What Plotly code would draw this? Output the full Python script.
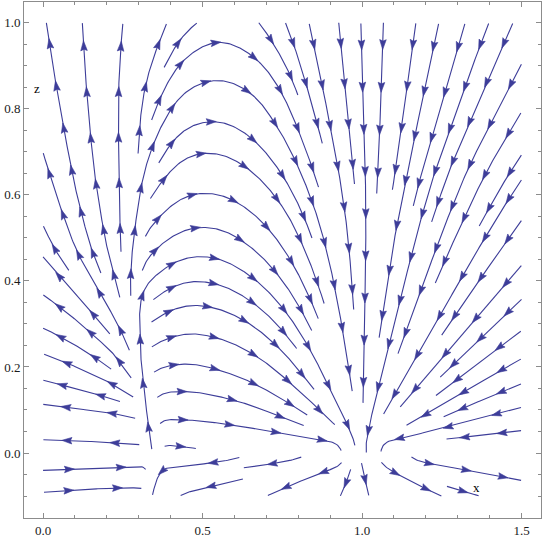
import math
from bisect import bisect_right
from collections import deque

import numpy as np
import plotly.graph_objects as go

# Flow direction at grid nodes, in degrees on the page
# (0 = to the right, 90 = straight up). One list per row of the grid.
GRID_X = [0.0, 0.1, 0.2, 0.3, 0.34, 0.4, 0.5, 0.6, 0.7, 0.8, 0.9, 1.0, 1.1, 1.2, 1.3, 1.4, 1.5]
GRID_Z = [-0.1, -0.03, 0.03, 0.1, 0.2, 0.3, 0.4, 0.5, 0.6, 0.7, 0.8, 0.9, 1.0]

DIR_Z_N010 = [5, 4, 3, -3, -100, -150, -165, -161, -156, -146, -127, -85, -45, -30, -18, -15, -13]
DIR_Z_N003 = [2, 2, 2, 3, -90, -175, -174, -173, -172, -172, -165, -78, -25, -10, -9, -9, -9]
DIR_Z_003 = [178, 178, 177, 177, 95, -2, -3, -4, -4, -5, -12, -90, -168, -175, -176, -176, -176]
DIR_Z_010 = [175, 173, 172, 160, 60, 2, -8, -13, -22, -32, -55, -90, -127, -146, -156, -162, -166]
DIR_Z_020 = [162, 158, 145, 105, 35, 10, -12, -22, -36, -52, -70, -90, -110, -127, -138, -146, -154]
DIR_Z_030 = [155, 142, 128, 95, 35, 22, -8, -25, -42, -58, -75, -90, -104, -116, -127, -135, -141]
DIR_Z_040 = [140, 128, 113, 80, 45, 28, -5, -28, -45, -62, -77, -90, -101, -110, -119, -127, -133]
DIR_Z_050 = [117, 110, 100, 80, 50, 33, 0, -30, -48, -65, -78, -89, -99, -107, -115, -122, -127]
DIR_Z_060 = [112, 103, 97, 82, 58, 42, 2, -28, -48, -65, -77, -88, -100, -106, -112, -118, -125]
DIR_Z_070 = [106, 99, 93, 87, 70, 52, 6, -28, -50, -67, -78, -87, -97, -106, -113, -119, -124]
DIR_Z_080 = [104, 97, 92, 86, 72, 58, 14, -25, -55, -70, -80, -88, -95, -103, -110, -116, -121]
DIR_Z_090 = [100, 95, 90, 82, 72, 60, 22, -20, -50, -72, -82, -89, -94, -101, -107, -113, -118]
DIR_Z_100 = [100, 95, 89, 80, 75, 65, 32, -25, -58, -75, -83, -88, -93, -101, -105, -112, -114]

X_LIMITS = [0.0, 1.5]
Z_LIMITS = [-0.1, 1.0]
X_TICKS = [0.0, 0.5, 1.0, 1.5]
X_TICK_TEXT = ["0.0", "0.5", "1.0", "1.5"]
Z_TICKS = [0.0, 0.2, 0.4, 0.6, 0.8, 1.0]
Z_TICK_TEXT = ["0.0", "0.2", "0.4", "0.6", "0.8", "1.0"]

BLUE = "#3d3d99"
FRAME = "#8c8c8c"
FONT = "Liberation Serif"

W, H = 545, 543
M = dict(l=24, r=4, t=2, b=25)
X_VIEW = [-0.0596, 1.561]
Z_VIEW = [-0.151, 1.048]
KX = (W - M["l"] - M["r"]) / (X_VIEW[1] - X_VIEW[0])   # px per unit
KZ = (H - M["t"] - M["b"]) / (Z_VIEW[1] - Z_VIEW[0])

# ---- direction field on the page (px space) ----
rows = [DIR_Z_N010, DIR_Z_N003, DIR_Z_003, DIR_Z_010, DIR_Z_020, DIR_Z_030, DIR_Z_040,
        DIR_Z_050, DIR_Z_060, DIR_Z_070, DIR_Z_080, DIR_Z_090, DIR_Z_100]
ang = np.radians(np.array(rows, dtype=float))
CU = np.cos(ang).tolist()
CV = np.sin(ang).tolist()
GX = [x * KX for x in GRID_X]
GZ = [z * KZ for z in GRID_Z]
XMIN, XMAX = X_LIMITS[0] * KX, X_LIMITS[1] * KX
ZMIN, ZMAX = Z_LIMITS[0] * KZ, Z_LIMITS[1] * KZ


def field(px, pz):
    i = min(max(bisect_right(GX, px) - 1, 0), len(GX) - 2)
    j = min(max(bisect_right(GZ, pz) - 1, 0), len(GZ) - 2)
    tx = (px - GX[i]) / (GX[i + 1] - GX[i])
    tz = (pz - GZ[j]) / (GZ[j + 1] - GZ[j])
    tx = min(max(tx, 0.0), 1.0)
    tz = min(max(tz, 0.0), 1.0)
    a, b, c, d = (1 - tx) * (1 - tz), tx * (1 - tz), (1 - tx) * tz, tx * tz
    u = a * CU[j][i] + b * CU[j][i + 1] + c * CU[j + 1][i] + d * CU[j + 1][i + 1]
    v = a * CV[j][i] + b * CV[j][i + 1] + c * CV[j + 1][i] + d * CV[j + 1][i + 1]
    return u, v


# ---- evenly spaced streamlines ----
D_SEP = 22.0
D_TEST = 11.0
STEP = 1.5
MIN_SPEED = 0.35
MIN_LEN = 12.0
MAX_LEN = 700.0
ARROW_GAP = 44.0
TURN_WINDOW = 10      # steps
TURN_COS = 0.55       # stop on sharp hooks

cells = {}


def near(px, pz, r):
    ci, cj = int(px // D_SEP), int(pz // D_SEP)
    r2 = r * r
    for a in (ci - 1, ci, ci + 1):
        for b in (cj - 1, cj, cj + 1):
            for qx, qz in cells.get((a, b), ()):
                if (qx - px) ** 2 + (qz - pz) ** 2 < r2:
                    return True
    return False


def trace(px, pz, sign):
    pts = []
    dirs = []
    total = 0.0
    while total < MAX_LEN:
        u, v = field(px, pz)
        m = math.hypot(u, v)
        if m < MIN_SPEED:
            break
        mx = px + sign * 0.5 * STEP * u / m
        mz = pz + sign * 0.5 * STEP * v / m
        u, v = field(mx, mz)
        m = math.hypot(u, v)
        if m < MIN_SPEED:
            break
        du, dv = u / m, v / m
        if dirs:
            pu, pv = dirs[max(len(dirs) - TURN_WINDOW, 0)]
            if du * pu + dv * pv < TURN_COS:
                break
        nx = px + sign * STEP * du
        nz = pz + sign * STEP * dv
        if not (XMIN <= nx <= XMAX and ZMIN <= nz <= ZMAX):
            break
        if (nz > 0) != (pz > 0):      # the flow does not cross the z = 0 line
            break
        if near(nx, nz, D_TEST):
            break
        pts.append((nx, nz))
        dirs.append((du, dv))
        px, pz = nx, nz
        total += STEP
    return pts


lines = []


def try_seed(px, pz):
    if not (XMIN <= px <= XMAX and ZMIN <= pz <= ZMAX):
        return None
    if near(px, pz, D_SEP * 0.98):
        return None
    u, v = field(px, pz)
    if math.hypot(u, v) < MIN_SPEED:
        return None
    back = trace(px, pz, -1)
    fwd = trace(px, pz, 1)
    line = back[::-1] + [(px, pz)] + fwd
    if (len(line) - 1) * STEP < MIN_LEN:
        return None
    for q in line:
        cells.setdefault((int(q[0] // D_SEP), int(q[1] // D_SEP)), []).append(q)
    lines.append(line)
    return line


def spawn(line, queue):
    for k in range(0, len(line), 6):
        a = line[max(k - 1, 0)]
        b = line[min(k + 1, len(line) - 1)]
        tx, tz = b[0] - a[0], b[1] - a[1]
        n = math.hypot(tx, tz)
        if n == 0:
            continue
        nx, nz = -tz / n, tx / n
        p = line[k]
        queue.append((p[0] + D_SEP * nx, p[1] + D_SEP * nz))
        queue.append((p[0] - D_SEP * nx, p[1] - D_SEP * nz))


seeds = [(1.25 * KX, 0.7 * KZ)]
for sz in np.arange(ZMAX, ZMIN, -D_SEP / 2):
    for sx in np.arange(XMIN, XMAX, D_SEP / 2):
        seeds.append((sx, sz))

for s in seeds:
    first = try_seed(*s)
    if first is None:
        continue
    q = deque()
    spawn(first, q)
    while q:
        ln = try_seed(*q.popleft())
        if ln is not None:
            spawn(ln, q)

# ---- build traces ----
lx, lz = [], []
ax, az = [], []
for line in lines:
    arr = np.array(line)
    lx += list(arr[:, 0] / KX) + [None]
    lz += list(arr[:, 1] / KZ) + [None]
    seg = np.hypot(np.diff(arr[:, 0]), np.diff(arr[:, 1]))
    s = np.concatenate([[0.0], np.cumsum(seg)])
    L = s[-1]
    n = max(1, int(L / ARROW_GAP + 0.5))
    for k in range(n):
        sk = (k + 0.5) * L / n
        p = np.array([np.interp(sk, s, arr[:, 0]), np.interp(sk, s, arr[:, 1])])
        p1 = np.array([np.interp(sk + 2, s, arr[:, 0]), np.interp(sk + 2, s, arr[:, 1])])
        p0 = np.array([np.interp(sk - 2, s, arr[:, 0]), np.interp(sk - 2, s, arr[:, 1])])
        t = p1 - p0
        tn = np.hypot(*t)
        if tn == 0:
            continue
        t = t / tn
        nrm = np.array([-t[1], t[0]])
        tip = p + 5.5 * t
        base = p - 4.5 * t
        notch = p - 3.0 * t
        poly = [tip, base + 3.3 * nrm, notch, base - 3.3 * nrm, tip]
        ax += [q[0] / KX for q in poly] + [None]
        az += [q[1] / KZ for q in poly] + [None]

fig = go.Figure()
fig.add_trace(go.Scatter(x=lx, y=lz, mode="lines", line=dict(color=BLUE, width=1.1),
                         hoverinfo="skip", showlegend=False))
fig.add_trace(go.Scatter(x=ax, y=az, mode="lines", fill="toself", fillcolor=BLUE,
                         line=dict(color=BLUE, width=0.6), hoverinfo="skip", showlegend=False))

axis_style = dict(showline=True, linecolor=FRAME, linewidth=1, mirror="allticks",
                  ticks="inside", tickcolor=FRAME, ticklen=5, tickwidth=1,
                  showgrid=False, zeroline=False, automargin=False,
                  tickfont=dict(family=FONT, size=13, color="#1a1a1a"))
fig.update_xaxes(range=X_VIEW, tickmode="array", tickvals=X_TICKS, ticktext=X_TICK_TEXT,
                 minor=dict(ticks="inside", ticklen=3, dtick=0.1, tick0=0, tickcolor=FRAME),
                 **axis_style)
fig.update_yaxes(range=Z_VIEW, tickmode="array", tickvals=Z_TICKS, ticktext=Z_TICK_TEXT,
                 minor=dict(ticks="inside", ticklen=3, dtick=0.05, tick0=0, tickcolor=FRAME),
                 **axis_style)

fig.add_annotation(x=-0.018, y=0.847, text="z", showarrow=False,
                   font=dict(family=FONT, size=13, color="black"))
fig.add_annotation(x=1.36, y=-0.081, text="x", showarrow=False,
                   font=dict(family=FONT, size=13, color="black"))

fig.update_layout(width=W, height=H, margin=M, plot_bgcolor="white", paper_bgcolor="white")

# page body has an 8px default margin; drop it so the figure sits at the window corner
fig.write_html("out.html", config={"displayModeBar": False},
               post_script="document.body.style.margin='0';")
